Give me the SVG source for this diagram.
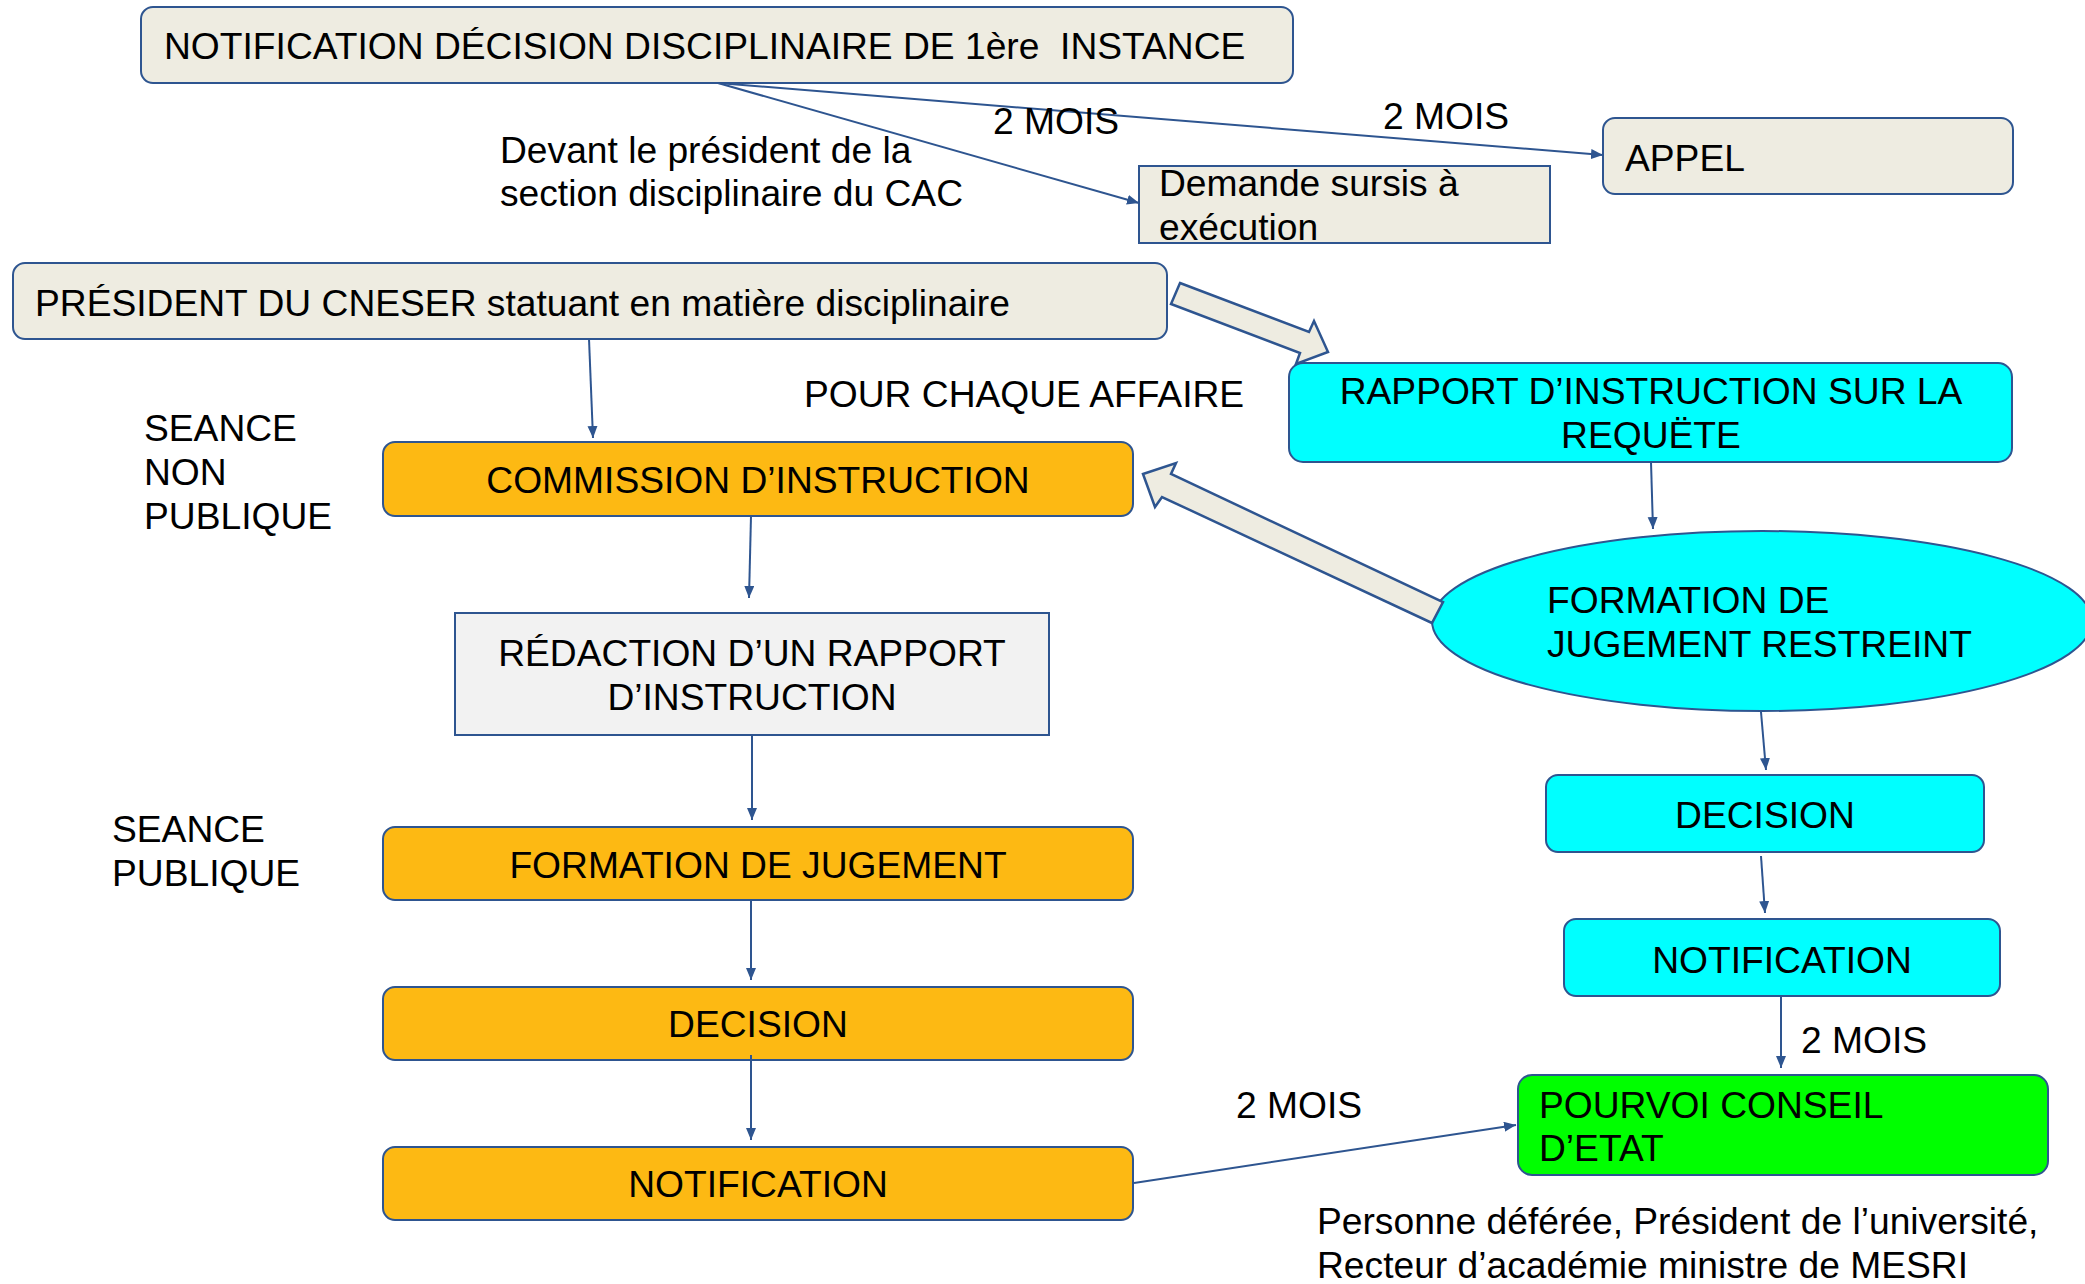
<svg xmlns="http://www.w3.org/2000/svg" width="2085" height="1284" viewBox="0 0 2085 1284">
<defs>
<marker id="ah" markerUnits="userSpaceOnUse" markerWidth="14" markerHeight="12" refX="12" refY="5" orient="auto">
<path d="M0,0 L12,5 L0,10 Z" fill="#2E5590"/>
</marker>
<style>
text{font-family:"Liberation Sans",Arial,sans-serif;font-size:37.2px;fill:#000}
.box{stroke:#2E5590;stroke-width:2}
.beige{fill:#EEECE1}
.orange{fill:#FDB913}
.cyan{fill:#00FFFF}
.green{fill:#00FF00}
.gray{fill:#F2F2F2}
.c{text-anchor:middle}
.conn line{stroke:#2E5590;stroke-width:2;marker-end:url(#ah)}
.block{fill:#EEECE1;stroke:#2E5590;stroke-width:2.5;stroke-linejoin:miter}
</style>
</defs>
<rect width="2085" height="1284" fill="#FFFFFF"/>

<g id="notif1">
<rect class="box beige" x="141" y="7" width="1152" height="76" rx="12"/>
<text x="164" y="59" xml:space="preserve">NOTIFICATION DÉCISION DISCIPLINAIRE DE 1ère  INSTANCE</text>
</g>
<g id="appel">
<rect class="box beige" x="1603" y="118" width="410" height="76" rx="12"/>
<text x="1625" y="171">APPEL</text>
</g>
<g id="sursis">
<rect class="box beige" x="1139" y="166" width="411" height="77"/>
<text x="1159" y="196">Demande sursis à</text>
<text x="1159" y="240">exécution</text>
</g>
<g id="president">
<rect class="box beige" x="13" y="263" width="1154" height="76" rx="12"/>
<text x="35" y="316">PRÉSIDENT DU CNESER statuant en matière disciplinaire</text>
</g>
<g id="rapport">
<rect class="box cyan" x="1289" y="363" width="723" height="99" rx="14"/>
<text class="c" x="1651" y="404">RAPPORT D’INSTRUCTION SUR LA</text>
<text class="c" x="1651" y="448">REQUËTE</text>
</g>
<g id="commission">
<rect class="box orange" x="383" y="442" width="750" height="74" rx="12"/>
<text class="c" x="758" y="493">COMMISSION D’INSTRUCTION</text>
</g>
<g id="redaction">
<rect class="box gray" x="455" y="613" width="594" height="122"/>
<text class="c" x="752" y="666">RÉDACTION D’UN RAPPORT</text>
<text class="c" x="752" y="710">D’INSTRUCTION</text>
</g>
<g id="formation-restreint">
<ellipse class="box cyan" cx="1762" cy="621" rx="330" ry="90"/>
<text x="1547" y="613">FORMATION DE</text>
<text x="1547" y="657">JUGEMENT RESTREINT</text>
</g>
<g id="decision-cyan">
<rect class="box cyan" x="1546" y="775" width="438" height="77" rx="12"/>
<text class="c" x="1765" y="828">DECISION</text>
</g>
<g id="formation-jugement">
<rect class="box orange" x="383" y="827" width="750" height="73" rx="12"/>
<text class="c" x="758" y="878">FORMATION DE JUGEMENT</text>
</g>
<g id="notification-cyan">
<rect class="box cyan" x="1564" y="919" width="436" height="77" rx="12"/>
<text class="c" x="1782" y="973">NOTIFICATION</text>
</g>
<g id="decision-orange">
<rect class="box orange" x="383" y="987" width="750" height="73" rx="12"/>
<text class="c" x="758" y="1037">DECISION</text>
</g>
<g id="pourvoi">
<rect class="box green" x="1518" y="1075" width="530" height="100" rx="14"/>
<text x="1539" y="1118">POURVOI CONSEIL</text>
<text x="1539" y="1161">D’ETAT</text>
</g>
<g id="notification-orange">
<rect class="box orange" x="383" y="1147" width="750" height="73" rx="12"/>
<text class="c" x="758" y="1197">NOTIFICATION</text>
</g>

<g id="labels">
<text x="500" y="163">Devant le président de la</text>
<text x="500" y="206">section disciplinaire du CAC</text>
<text x="804" y="407">POUR CHAQUE AFFAIRE</text>
<text x="144" y="441">SEANCE</text>
<text x="144" y="485">NON</text>
<text x="144" y="529">PUBLIQUE</text>
<text x="112" y="842">SEANCE</text>
<text x="112" y="886">PUBLIQUE</text>
<text x="1317" y="1234">Personne déférée, Président de l’université,</text>
<text x="1317" y="1278">Recteur d’académie ministre de MESRI</text>
</g>

<g id="connectors" class="conn">
<line x1="718" y1="83" x2="1603" y2="155"/>
<line x1="718" y1="83" x2="1139" y2="203"/>
<line x1="589" y1="339" x2="593" y2="438"/>
<line x1="751" y1="516" x2="749" y2="598"/>
<line x1="752" y1="735" x2="752" y2="820"/>
<line x1="751" y1="899" x2="751" y2="980"/>
<line x1="751" y1="1055" x2="751" y2="1140"/>
<line x1="1134" y1="1183" x2="1516" y2="1125"/>
<line x1="1651" y1="462" x2="1653" y2="529"/>
<line x1="1761" y1="712" x2="1766" y2="770"/>
<line x1="1761" y1="856" x2="1765" y2="913"/>
<line x1="1781" y1="996" x2="1781" y2="1068"/>
<polygon class="block" points="1180,283 1309,332 1314,321 1328,352 1296,364 1300,353 1171,304"/>
<polygon class="block" points="1143,474 1176,463 1171,474 1443,602 1432,623 1162,497 1155,507"/>
<text x="993" y="134">2 MOIS</text>
<text x="1383" y="129">2 MOIS</text>
<text x="1236" y="1118">2 MOIS</text>
<text x="1801" y="1053">2 MOIS</text>
</g>
</svg>
